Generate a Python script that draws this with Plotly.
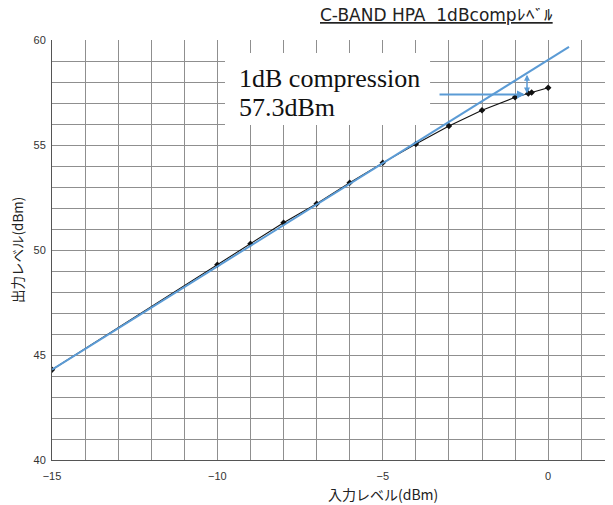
import plotly.graph_objects as go

# measured data (input dBm -> output dBm)
input_level = [-15, -10, -9, -8, -7, -6, -5, -4, -3, -2, -1, -0.6, -0.5, 0]
output_level = [44.3, 49.3, 50.3, 51.3, 52.2, 53.2, 54.15, 55.05, 55.9, 56.65, 57.27, 57.45, 57.5, 57.73]

# linear (ideal) extrapolation line
linear_x = [-15, 0.63]
linear_y = [44.3, 59.67]

# 1dB compression point
comp_x = -0.64
comp_y = 57.4
comp_ideal_y = 58.42
comp_label_start_x = -3.33

title_text = "<u>C-BAND HPA  1dBcompﾚﾍﾞﾙ</u>"
x_title = "入力レベル(dBm)"
y_title = "出力レベル(dBm)"
label_line1 = "1dB compression"
label_line2 = "57.3dBm"

BLUE = "#5B9BD5"
GRID = "#8f8f8f"

# plot area in screen pixels (page body has an 8px offset)
OFF = 8
PL, PT, PW, PH = 52, 40, 561, 420
W, H = 613, 505

fig = go.Figure()
fig.add_trace(go.Scatter(x=input_level, y=output_level, mode="lines+markers",
                         line=dict(color="#111111", width=1.1),
                         marker=dict(symbol="diamond", size=5, color="#111111"),
                         showlegend=False))
fig.add_trace(go.Scatter(x=linear_x, y=linear_y, mode="lines",
                         line=dict(color=BLUE, width=2), showlegend=False))

# white box behind annotation text
fig.add_shape(type="rect", xref="x", yref="y", x0=-9.77, x1=-3.57, y0=55.95, y1=59.38,
              fillcolor="white", line=dict(width=0), layer="between")

serif = dict(family="Liberation Serif, Times New Roman, serif", size=26, color="#111111")
fig.add_annotation(x=-9.4, y=58.19, xref="x", yref="y", text=label_line1, showarrow=False,
                   xanchor="left", yanchor="middle", font=serif)
fig.add_annotation(x=-9.4, y=56.8, xref="x", yref="y", text=label_line2, showarrow=False,
                   xanchor="left", yanchor="middle", font=serif)

# horizontal arrow
fig.add_annotation(x=comp_x - 0.06, y=comp_y, ax=comp_label_start_x, ay=comp_y,
                   xref="x", yref="y", axref="x", ayref="y", text="", showarrow=True,
                   arrowhead=2, arrowsize=0.8, arrowwidth=2, arrowcolor=BLUE)
# vertical double arrow
fig.add_annotation(x=comp_x, y=comp_y + 0.05, ax=comp_x, ay=comp_ideal_y,
                   xref="x", yref="y", axref="x", ayref="y", text="", showarrow=True,
                   arrowhead=2, startarrowhead=2, arrowside="end+start",
                   arrowsize=0.8, startarrowsize=0.8, arrowwidth=1.5, arrowcolor=BLUE)

# title
fig.add_annotation(xref="paper", yref="paper", x=(555 - PL) / PW, y=1 + (PT - 15) / PH,
                   xanchor="right", yanchor="middle", text=title_text, showarrow=False,
                   font=dict(family="DejaVu Sans, sans-serif", size=17, color="#222"))

# axis titles
fig.add_annotation(x=-5, y=(PT + PH - 494) / PH, xref="x", yref="paper", text=x_title,
                   showarrow=False, xanchor="center", yanchor="middle",
                   font=dict(family="Noto Sans CJK JP, sans-serif", size=14, color="#222"))
fig.add_annotation(x=(17 - PL) / PW, y=0.5, xref="paper", yref="paper", text=y_title,
                   showarrow=False, textangle=-90, xanchor="center", yanchor="middle",
                   font=dict(family="Noto Sans CJK JP, sans-serif", size=13.5, color="#222"))

axis_font = dict(family="Liberation Sans, Arial, sans-serif", size=11, color="#333")
fig.update_xaxes(range=[-15, 1.96], dtick=5, tick0=0, showgrid=True, gridcolor=GRID, gridwidth=1,
                 minor=dict(dtick=1, showgrid=True, gridcolor=GRID, gridwidth=1),
                 zeroline=False, showline=True, linecolor="#555", linewidth=1,
                 ticks="", tickfont=axis_font, ticklabelstandoff=6, fixedrange=True)
fig.update_yaxes(range=[40, 60], dtick=5, showgrid=True, gridcolor=GRID, gridwidth=1,
                 minor=dict(dtick=1, showgrid=True, gridcolor=GRID, gridwidth=1),
                 zeroline=False, showline=True, linecolor="#555", linewidth=1,
                 ticks="", tickfont=axis_font, ticklabelstandoff=3, fixedrange=True)

fig.update_layout(width=W, height=H,
                  margin=dict(l=PL - OFF, r=W - (PL - OFF) - PW, t=PT - OFF, b=H - (PT - OFF) - PH),
                  paper_bgcolor="white", plot_bgcolor="white", showlegend=False)

fig.write_html("out.html")
